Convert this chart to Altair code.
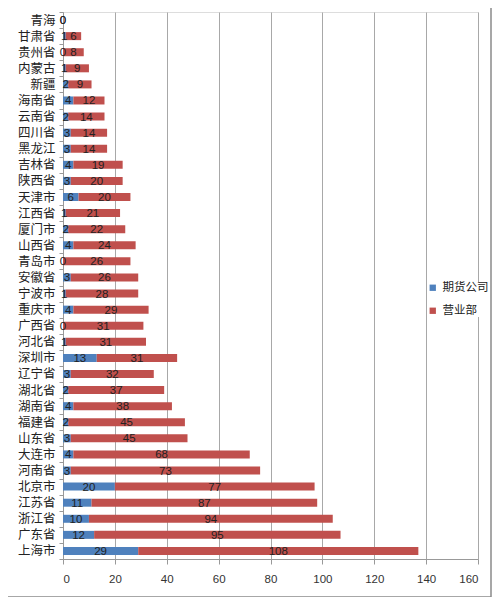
import altair as alt
import pandas as pd

regions = ["青海", "甘肃省", "贵州省", "内蒙古", "新疆", "海南省", "云南省", "四川省", "黑龙江", "吉林省",
           "陕西省", "天津市", "江西省", "厦门市", "山西省", "青岛市", "安徽省", "宁波市", "重庆市", "广西省",
           "河北省", "深圳市", "辽宁省", "湖北省", "湖南省", "福建省", "山东省", "大连市", "河南省", "北京市",
           "江苏省", "浙江省", "广东省", "上海市"]
futures_co = [0, 1, 0, 1, 2, 4, 2, 3, 3, 4, 3, 6, 1, 2, 4, 0, 3, 1, 4, 0,
              1, 13, 3, 2, 4, 2, 3, 4, 3, 20, 11, 10, 12, 29]
sales_dept = [0, 6, 8, 9, 9, 12, 14, 14, 14, 19, 20, 20, 21, 22, 24, 26, 26, 28, 29, 31,
              31, 31, 32, 37, 38, 45, 45, 68, 73, 77, 87, 94, 95, 108]
series = ["期货公司", "营业部"]
colors = ["#4F81BD", "#C0504D"]

rows = []
for r, a, b in zip(regions, futures_co, sales_dept):
    rows.append({"region": r, "series": series[0], "value": a, "start": 0, "end": a, "mid": a / 2})
    rows.append({"region": r, "series": series[1], "value": b, "start": a, "end": a + b, "mid": a + b / 2})
df = pd.DataFrame(rows)

FONT = "Liberation Sans, Noto Sans CJK SC"

y_enc = alt.Y("region:N", sort=regions, title=None,
              scale=alt.Scale(paddingInner=0, paddingOuter=0),
              axis=alt.Axis(labelFontSize=12.5, labelColor="#222222", labelFont=FONT,
                            tickBand="extent", tickSize=4, tickColor="#999999",
                            domainColor="#999999", labelPadding=4, grid=False))

bars = alt.Chart(df).mark_bar(size=8).encode(
    x=alt.X("start:Q", title=None,
            scale=alt.Scale(domain=[0, 160], nice=False),
            axis=alt.Axis(values=[0, 20, 40, 60, 80, 100, 120, 140, 160], format="d",
                          labelFontSize=11.5, labelColor="#333333", labelFont=FONT,
                          grid=True, gridColor="#a8a8a8", tickSize=5, tickColor="#999999",
                          domainColor="#999999", labelPadding=9)),
    x2="end:Q",
    y=y_enc,
    color=alt.Color("series:N", sort=series,
                    scale=alt.Scale(domain=series, range=colors),
                    legend=alt.Legend(title=None, orient="none", legendX=364, legendY=270,
                                      symbolType="square", symbolSize=40, symbolStrokeWidth=0,
                                      labelFontSize=11.5, labelFont=FONT, labelColor="#222222",
                                      rowPadding=10, fillColor="white")),
)

labels = alt.Chart(df).mark_text(fontSize=11.5, font=FONT, color="#222222", baseline="middle", dy=1).encode(
    x="mid:Q",
    y=alt.Y("region:N", sort=regions),
    text="value:Q",
)

frame = alt.Chart(alt.Data(values=[{}])).mark_rect(fill=None, stroke="#8a8a8a", strokeWidth=1.5).encode(
    x=alt.value(-62), x2=alt.value(428), y=alt.value(-11), y2=alt.value(585)
)

chart = alt.layer(frame, bars, labels).properties(
    width=415, height=547,
    autosize=alt.AutoSizeParams(type="none"),
    padding={"left": 55, "top": 4, "right": 14, "bottom": 38},
).configure_view(stroke=None).configure(font=FONT)

chart.save("out.html", embed_options={"renderer": "svg", "actions": False})
